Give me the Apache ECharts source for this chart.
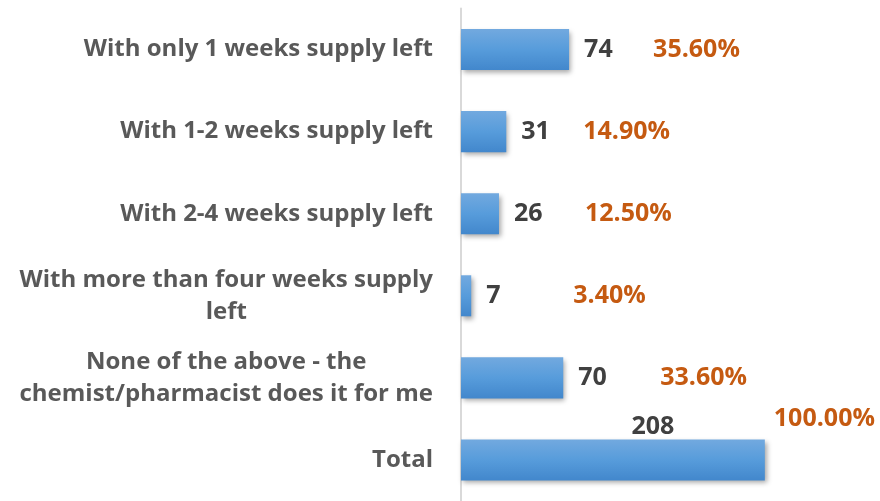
<!DOCTYPE html>
<html>
<head>
<meta charset="utf-8">
<script src="https://cdn.jsdelivr.net/npm/echarts@6/dist/echarts.min.js"></script>
<style>html,body{margin:0;padding:0;background:#fff;}#c{width:880px;height:501px;}</style>
</head>
<body>
<div id="c"></div>
<script>
const categories = [
  'With only 1 weeks supply left',
  'With 1-2 weeks supply left',
  'With 2-4 weeks supply left',
  'With more than four weeks supply\nleft',
  'None of the above - the\nchemist/pharmacist does it for me',
  'Total'
];
const counts = [74, 31, 26, 7, 70, 208];
const percents = ['35.60%', '14.90%', '12.50%', '3.40%', '33.60%', '100.00%'];

// label layout (style only)
const pctDistance = [84, 77, 86, 102, 97, 9];
const CAT_FONT = 'Open Sans';
const NUM_FONT = 'Open Sans';

const chart = echarts.init(document.getElementById('c'));

const barStyle = {
  color: new echarts.graphic.LinearGradient(0, 0, 0, 1, [
    { offset: 0, color: '#72a9df' },
    { offset: 0.5, color: '#579cdb' },
    { offset: 1, color: '#4287cc' }
  ]),
  shadowColor: 'rgba(0,0,0,0.35)',
  shadowBlur: 5,
  shadowOffsetX: 2,
  shadowOffsetY: 3
};

const valueData = counts.map((v, i) => {
  const item = { value: v };
  if (i === counts.length - 1) {
    item.label = { position: 'top', offset: [40, 0], distance: 0 };
  }
  return item;
});

const pctData = counts.map((v, i) => {
  const item = { value: v, label: { distance: pctDistance[i] } };
  if (i === counts.length - 1) item.label.offset = [0, -41];
  return item;
});

chart.setOption({
  animation: false,
  grid: { left: 461, width: 409, top: 8.5, height: 498, containLabel: false },
  xAxis: {
    type: 'value', min: 0, max: 280,
    show: false
  },
  yAxis: {
    type: 'category', inverse: true, data: categories,
    axisLine: { show: true, lineStyle: { color: '#d9d9d9', width: 2 } },
    axisTick: { show: false },
    axisLabel: {
      margin: 28,
      align: 'right',
      formatter: (val) => val.split('\n').map(s => '{c|' + s + '}').join('\n'),
      rich: {
        c: { align: 'center', fontFamily: CAT_FONT, fontWeight: 'bold', fontSize: 24, color: '#595959', lineHeight: 32 }
      }
    }
  },
  series: [
    {
      type: 'bar', data: valueData, barWidth: '50%',
      itemStyle: barStyle,
      label: {
        show: true, position: 'right', distance: 15,
        fontFamily: NUM_FONT, fontWeight: 'bold', fontSize: 25, color: '#404040'
      },
      z: 2
    },
    {
      type: 'bar', data: pctData, barWidth: '50%', barGap: '-100%',
      itemStyle: { color: 'rgba(0,0,0,0)' },
      silent: true,
      label: {
        show: true, position: 'right',
        formatter: (p) => percents[p.dataIndex],
        fontFamily: NUM_FONT, fontWeight: 'bold', fontSize: 25, color: '#c55a11'
      },
      z: 3
    }
  ]
});
</script>
</body>
</html>
